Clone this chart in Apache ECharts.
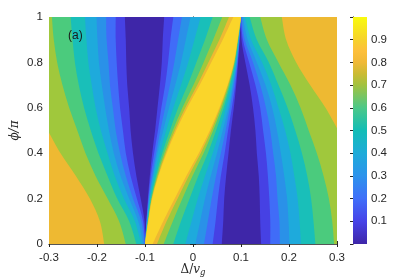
<!DOCTYPE html>
<html><head><meta charset="utf-8">
<script src="https://cdn.jsdelivr.net/npm/echarts@6/dist/echarts.min.js"></script>
<style>html,body{margin:0;padding:0;background:#fff}#c{width:415px;height:279px}</style>
</head><body><div id="c"></div>
<script>
// ---- data ----
const yRows = [0, 0.1, 0.2, 0.3, 0.4, 0.5, 0.6, 0.7, 0.8, 0.9, 1];
const levels = [0.1, 0.2, 0.3, 0.4, 0.5, 0.6, 0.7, 0.8, 0.9];
// left flank contours (x at each yRow), levels 0.1..0.7
const leftContours = [
  [-0.100,-0.101,-0.109,-0.118,-0.125,-0.130,-0.133,-0.137,-0.139,-0.140,-0.142],
  [-0.100,-0.104,-0.117,-0.130,-0.140,-0.146,-0.152,-0.156,-0.159,-0.161,-0.161],
  [-0.101,-0.108,-0.125,-0.140,-0.152,-0.161,-0.167,-0.173,-0.176,-0.180,-0.181],
  [-0.104,-0.114,-0.133,-0.151,-0.165,-0.175,-0.183,-0.190,-0.196,-0.199,-0.201],
  [-0.108,-0.121,-0.144,-0.163,-0.178,-0.192,-0.203,-0.211,-0.218,-0.222,-0.225],
  [-0.118,-0.133,-0.158,-0.178,-0.197,-0.213,-0.227,-0.238,-0.246,-0.251,-0.255],
  [-0.140,-0.154,-0.178,-0.203,-0.224,-0.241,-0.258,-0.272,-0.283,-0.290,-0.294]
];
const left08Y = [0, 0.1, 0.2, 0.3, 0.4, 0.49];
const left08X = [-0.185,-0.194,-0.215,-0.244,-0.276,-0.300];
// ridge: left side (rising) contours, levels 0.1..0.9
const ridgeLeftContours = [
  [-0.100,-0.097,-0.094,-0.090,-0.085,-0.079,-0.074,-0.069,-0.065,-0.063,-0.060],
  [-0.100,-0.097,-0.093,-0.088,-0.081,-0.073,-0.066,-0.058,-0.052,-0.047,-0.041],
  [-0.100,-0.096,-0.092,-0.085,-0.077,-0.068,-0.058,-0.048,-0.039,-0.031,-0.023],
  [-0.100,-0.096,-0.091,-0.083,-0.074,-0.062,-0.050,-0.037,-0.025,-0.015,-0.005],
  [-0.100,-0.095,-0.089,-0.081,-0.069,-0.056,-0.041,-0.025,-0.010, 0.003, 0.016],
  [-0.100,-0.094,-0.088,-0.077,-0.064,-0.048,-0.031,-0.011, 0.007, 0.025, 0.041],
  [-0.100,-0.094,-0.086,-0.075,-0.060,-0.042,-0.022, 0.001, 0.022, 0.042, 0.061],
  [-0.100,-0.093,-0.086,-0.073,-0.057,-0.038,-0.016, 0.009, 0.032, 0.055, 0.075],
  [-0.100,-0.093,-0.085,-0.072,-0.055,-0.035,-0.012, 0.014, 0.038, 0.062, 0.084]
];
// ridge: right side (falling) contours, levels 0.1..0.9
const ridgeRightContours = [
  [ 0.060, 0.063, 0.065, 0.069, 0.074, 0.079, 0.085, 0.090, 0.094, 0.097, 0.100],
  [ 0.041, 0.047, 0.052, 0.058, 0.066, 0.073, 0.081, 0.088, 0.093, 0.097, 0.100],
  [ 0.023, 0.031, 0.039, 0.048, 0.058, 0.068, 0.077, 0.085, 0.092, 0.096, 0.100],
  [ 0.005, 0.015, 0.025, 0.037, 0.050, 0.062, 0.074, 0.083, 0.091, 0.096, 0.100],
  [-0.016,-0.003, 0.010, 0.025, 0.041, 0.056, 0.069, 0.081, 0.089, 0.095, 0.100],
  [-0.041,-0.025,-0.007, 0.011, 0.031, 0.048, 0.064, 0.077, 0.088, 0.094, 0.100],
  [-0.061,-0.042,-0.022,-0.001, 0.022, 0.042, 0.060, 0.075, 0.086, 0.094, 0.100],
  [-0.075,-0.055,-0.032,-0.009, 0.016, 0.038, 0.057, 0.073, 0.086, 0.093, 0.100],
  [-0.084,-0.062,-0.038,-0.014, 0.012, 0.035, 0.055, 0.072, 0.085, 0.093, 0.100]
];
// right flank contours, levels 0.1..0.7
const rightContours = [
  [0.142,0.140,0.139,0.137,0.133,0.130,0.125,0.118,0.109,0.101,0.100],
  [0.161,0.161,0.159,0.156,0.152,0.146,0.140,0.130,0.117,0.104,0.100],
  [0.181,0.180,0.176,0.173,0.167,0.161,0.152,0.140,0.125,0.108,0.101],
  [0.201,0.199,0.196,0.190,0.183,0.175,0.165,0.151,0.133,0.114,0.104],
  [0.225,0.222,0.218,0.211,0.203,0.192,0.178,0.163,0.144,0.121,0.108],
  [0.255,0.251,0.246,0.238,0.227,0.213,0.197,0.178,0.158,0.133,0.118],
  [0.294,0.290,0.283,0.272,0.258,0.241,0.224,0.203,0.178,0.154,0.140]
];
const right08Y = [0.51, 0.6, 0.7, 0.8, 0.9, 1];
const right08X = [0.300, 0.276, 0.244, 0.215, 0.194, 0.185];
const barTicks = [0.1, 0.2, 0.3, 0.4, 0.5, 0.6, 0.7, 0.8, 0.9];

// ---- styles ----
const bandColors = ['#3e26a8','#4641e4','#406cf8','#2a91e8','#1eaadc','#19bfb9','#4bcb7d','#a0c83c','#eeb932','#fad52a'];
const barStops = [0, 0.1, 0.2, 0.3, 0.4, 0.5, 0.6, 0.7, 0.75, 0.8, 0.85, 0.9, 1];
const barColors = ['#3e26a8','#4743e8','#406ff9','#2c93ec','#1eabd9','#12bdb6','#4cc888','#a2c23f','#cbbb33','#f0b937','#fdbf3b','#f6d22c','#f9fb0e'];

const zip = (xs, ys) => xs.map((x, i) => [x, ys[i]]);
const polys = [];
polys.push({c: bandColors[0], parts: [{s: false, p: [[-0.3,0],[0.3,0],[0.3,1],[-0.3,1]]}]});
levels.forEach((lv, k) => {
  const col = bandColors[k + 1];
  if (k < 7) {
    polys.push({c: col, parts: [{s:false,p:[[-0.3,0]]},{s:true,p:zip(leftContours[k], yRows)},{s:false,p:[[-0.3,1]]}]});
  } else if (k === 7) {
    polys.push({c: col, parts: [{s:false,p:[[-0.3,0]]},{s:true,p:zip(left08X, left08Y)}]});
  }
  polys.push({c: col, parts: [{s:true,p:zip(ridgeLeftContours[k], yRows)},{s:true,p:zip(ridgeRightContours[k], yRows).reverse()}]});
  if (k < 7) {
    polys.push({c: col, parts: [{s:true,p:zip(rightContours[k], yRows)},{s:false,p:[[0.3,1],[0.3,0]]}]});
  } else if (k === 7) {
    polys.push({c: col, parts: [{s:true,p:zip(right08X, right08Y)},{s:false,p:[[0.3,1]]}]});
  }
});

function buildPath(poly, api) {
  const out = [];
  let first = true;
  poly.parts.forEach(part => {
    const P = part.p.map(q => api.coord(q));
    if (!part.s) {
      P.forEach(pt => { out.push((first ? 'M' : 'L') + pt[0].toFixed(2) + ' ' + pt[1].toFixed(2)); first = false; });
    } else {
      out.push((first ? 'M' : 'L') + P[0][0].toFixed(2) + ' ' + P[0][1].toFixed(2)); first = false;
      for (let i = 0; i < P.length - 1; i++) {
        const p0 = P[Math.max(i - 1, 0)], p1 = P[i], p2 = P[i + 1], p3 = P[Math.min(i + 2, P.length - 1)];
        const c1 = [p1[0] + (p2[0] - p0[0]) / 6, p1[1] + (p2[1] - p0[1]) / 6];
        const c2 = [p2[0] - (p3[0] - p1[0]) / 6, p2[1] - (p3[1] - p1[1]) / 6];
        out.push('C' + c1[0].toFixed(2) + ' ' + c1[1].toFixed(2) + ' ' + c2[0].toFixed(2) + ' ' + c2[1].toFixed(2) + ' ' + p2[0].toFixed(2) + ' ' + p2[1].toFixed(2));
      }
    }
  });
  out.push('Z');
  return out.join(' ');
}

const axisCol = '#262626';
const font = 'Liberation Sans, Arial, Helvetica, sans-serif';
const serif = 'DejaVu Serif, Liberation Serif, serif';
const chart = echarts.init(document.getElementById('c'), null, {renderer: 'canvas'});
const tickStyle = {show: true, inside: true, length: 3, lineStyle: {color: axisCol, width: 1}};
const lineStyle = {show: true, lineStyle: {color: '#555', width: 1}};
chart.setOption({
  animation: false,
  backgroundColor: '#fff',
  grid: [
    {left: 49, top: 17, width: 288, height: 227, containLabel: false, outerBoundsMode: 'none'},
    {left: 353, top: 17, width: 14, height: 227, containLabel: false, outerBoundsMode: 'none'}
  ],
  xAxis: [
    {type: 'value', gridIndex: 0, min: -0.3, max: 0.3, interval: 0.1, position: 'bottom',
     axisLine: lineStyle, axisTick: tickStyle, splitLine: {show: false},
     axisLabel: {color: axisCol, fontSize: 11.5, fontFamily: font, margin: 8},
     name: '{a|Δ/}{v|v}{g|g}', nameLocation: 'middle', nameGap: 18, nameMoveOverlap: false,
     nameTextStyle: {rich: {
       a: {fontSize: 12, fontFamily: serif, color: axisCol},
       v: {fontSize: 12, fontFamily: serif, fontStyle: 'italic', color: axisCol},
       g: {fontSize: 8.5, fontFamily: serif, fontStyle: 'italic', color: axisCol, padding: [6, 0, 0, 0]}
     }}},
    {type: 'value', gridIndex: 0, min: -0.3, max: 0.3, interval: 0.1, position: 'top',
     axisLine: lineStyle, axisTick: tickStyle, splitLine: {show: false}, axisLabel: {show: false}},
    {type: 'value', gridIndex: 1, min: 0, max: 1, show: false}
  ],
  yAxis: [
    {type: 'value', gridIndex: 0, min: 0, max: 1, interval: 0.2, position: 'left',
     axisLine: lineStyle, axisTick: tickStyle, splitLine: {show: false},
     axisLabel: {color: axisCol, fontSize: 11.5, fontFamily: font, margin: 6},
     name: '{p|ϕ/π}', nameLocation: 'middle', nameGap: 28, nameRotate: 90, nameMoveOverlap: false,
     nameTextStyle: {rich: {p: {fontSize: 12, fontFamily: serif, fontStyle: 'italic', color: axisCol}}}},
    {type: 'value', gridIndex: 0, min: 0, max: 1, interval: 0.2, position: 'right',
     axisLine: lineStyle, axisTick: tickStyle, splitLine: {show: false}, axisLabel: {show: false}},
    {type: 'value', gridIndex: 1, min: 0, max: 1, interval: 0.1, position: 'right',
     axisLine: lineStyle, axisTick: tickStyle, splitLine: {show: false},
     axisLabel: {color: axisCol, fontSize: 11.5, fontFamily: font, margin: 4,
       formatter: v => barTicks.some(t => Math.abs(t - v) < 1e-6) ? String(+v.toFixed(1)) : ''}},
    {type: 'value', gridIndex: 1, min: 0, max: 1, position: 'left',
     axisLine: lineStyle, axisTick: {show: false}, splitLine: {show: false}, axisLabel: {show: false}}
  ],
  series: [
    {type: 'custom', coordinateSystem: 'cartesian2d', xAxisIndex: 0, yAxisIndex: 0, clip: true, silent: true,
     data: polys.map((_, i) => [0, 0.5, i]),
     renderItem: (params, api) => {
       const poly = polys[params.dataIndex];
       return {type: 'path', shape: {pathData: buildPath(poly, api)}, style: {fill: poly.c, stroke: null}};
     }, z: 1},
    {type: 'custom', coordinateSystem: 'cartesian2d', xAxisIndex: 2, yAxisIndex: 2, silent: true,
     data: [[0, 0]],
     renderItem: (params, api) => {
       const p0 = api.coord([0, 0]), p1 = api.coord([1, 1]);
       return {type: 'rect', shape: {x: p0[0], y: p1[1], width: p1[0] - p0[0], height: p0[1] - p1[1]},
         style: {fill: new echarts.graphic.LinearGradient(0, 1, 0, 0, barStops.map((s, i) => ({offset: s, color: barColors[i]})))}};
     }, z: 1}
  ],
  graphic: [
    {type: 'text', left: 68, top: 30, z: 10, style: {text: '(a)', fontSize: 12, fontFamily: font, fill: '#1a1a1a'}}
  ]
});
</script>
</body></html>
